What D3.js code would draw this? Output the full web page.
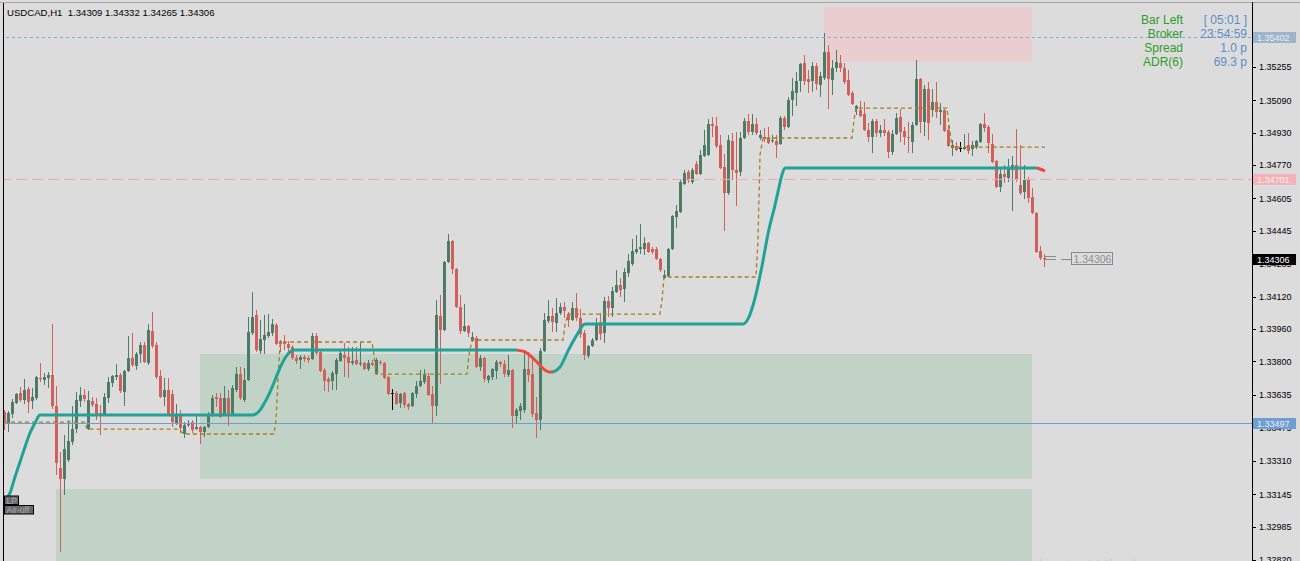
<!DOCTYPE html>
<html><head><meta charset="utf-8">
<script src="https://cdn.jsdelivr.net/npm/d3@7"></script>
<style>body{margin:0;background:#dcdcdc;overflow:hidden}svg{display:block}</style>
</head><body>
<svg id="c" width="1300" height="561"></svg>
<script>
// ---------- DATA (USDCAD H1) ----------
const symbolTitle = "USDCAD,H1  1.34309 1.34332 1.34265 1.34306";
const open = [1.33550,1.33491,1.33540,1.33595,1.33644,1.33610,1.33664,1.33605,1.33619,1.33718,1.33708,1.33718,1.33733,1.33580,1.33274,1.33220,1.33313,1.33402,1.33466,1.33605,
1.33634,1.33466,1.33605,1.33590,1.33545,1.33536,1.33619,1.33694,1.33723,1.33733,1.33649,1.33753,1.33817,1.33777,1.33837,1.33881,1.33792,1.33950,1.33881,1.33728,
1.33624,1.33659,1.33639,1.33496,1.33536,1.33442,1.33486,1.33501,1.33466,1.33476,1.33452,1.33476,1.33531,1.33624,1.33619,1.33536,1.33619,1.33536,1.33659,1.33738,
1.33610,1.33708,1.33940,1.34029,1.33851,1.33906,1.33926,1.33940,1.33980,1.33901,1.33896,1.33886,1.33871,1.33817,1.33807,1.33822,1.33817,1.33812,1.33926,1.33847,
1.33758,1.33713,1.33703,1.33738,1.33802,1.33832,1.33822,1.33792,1.33807,1.33787,1.33792,1.33763,1.33792,1.33738,1.33797,1.33792,1.33723,1.33644,1.33644,1.33595,
1.33644,1.33590,1.33580,1.33639,1.33679,1.33698,1.33728,1.33639,1.33580,1.34024,1.33955,1.34291,1.34394,1.34256,1.34069,1.33950,1.33975,1.33901,1.33916,1.33772,
1.33817,1.33708,1.33723,1.33753,1.33797,1.33787,1.33733,1.33758,1.33531,1.33555,1.33560,1.33763,1.33738,1.33545,1.33511,1.33851,1.33999,1.34024,1.33990,1.34039,
1.34069,1.34034,1.34004,1.34064,1.34014,1.33940,1.33827,1.33876,1.33906,1.33995,1.33940,1.34098,1.34064,1.34143,1.34177,1.34157,1.34236,1.34281,1.34340,1.34355,
1.34355,1.34385,1.34355,1.34355,1.34306,1.34212,1.34222,1.34355,1.34513,1.34538,1.34676,1.34735,1.34686,1.34774,1.34725,1.34814,1.34819,1.34972,1.34962,1.34868,
1.34760,1.34631,1.34888,1.34745,1.34735,1.34903,1.34987,1.34932,1.34972,1.34903,1.34908,1.34903,1.34888,1.34888,1.34873,1.35002,1.34957,1.35090,1.35125,1.35184,
1.35273,1.35194,1.35184,1.35258,1.35164,1.35199,1.35327,1.35189,1.35248,1.35273,1.35248,1.35189,1.35125,1.35046,1.35041,1.35021,1.34942,1.34908,1.34987,1.34928,
1.34942,1.34932,1.34834,1.34923,1.35006,1.34937,1.34908,1.34883,1.34967,1.35194,1.34982,1.35145,1.35041,1.35081,1.35031,1.35041,1.34942,1.34853,1.34863,1.34853,
1.34849,1.34868,1.34849,1.34858,1.34883,1.34972,1.34957,1.34873,1.34789,1.34661,1.34725,1.34705,1.34745,1.34770,1.34671,1.34636,1.34696,1.34612,1.34533,1.34345,
1.34309];
const high = [1.33560,1.33555,1.33615,1.33644,1.33674,1.33713,1.33674,1.33669,1.33728,1.33792,1.33743,1.33748,1.33985,1.33679,1.33353,1.33437,1.33511,1.33580,1.33649,1.33674,
1.33664,1.33654,1.33624,1.33619,1.33585,1.33644,1.33723,1.33733,1.33787,1.33743,1.33758,1.33926,1.33940,1.33847,1.33896,1.33896,1.33985,1.34044,1.33896,1.33758,
1.33718,1.33718,1.33659,1.33590,1.33560,1.33501,1.33511,1.33511,1.33536,1.33481,1.33481,1.33550,1.33634,1.33644,1.33644,1.33679,1.33659,1.33684,1.33772,1.33772,
1.33768,1.34019,1.34143,1.34054,1.34004,1.34029,1.34034,1.34009,1.33990,1.33906,1.33930,1.33901,1.33881,1.33832,1.33832,1.33832,1.33827,1.33940,1.33940,1.33856,
1.33768,1.33723,1.33753,1.33817,1.33861,1.33891,1.33871,1.33871,1.33871,1.33896,1.33797,1.33807,1.33807,1.33817,1.33807,1.33797,1.33728,1.33664,1.33654,1.33644,
1.33649,1.33595,1.33649,1.33703,1.33758,1.33763,1.33743,1.33679,1.34103,1.34128,1.34296,1.34429,1.34399,1.34261,1.34128,1.34083,1.33980,1.33945,1.33926,1.33832,
1.33822,1.33733,1.33768,1.33807,1.33802,1.33807,1.33832,1.33763,1.33570,1.33595,1.33856,1.33847,1.33827,1.33624,1.33866,1.34039,1.34103,1.34064,1.34113,1.34088,
1.34093,1.34044,1.34093,1.34138,1.34059,1.33955,1.33881,1.33916,1.34014,1.34039,1.34118,1.34123,1.34167,1.34251,1.34212,1.34261,1.34330,1.34404,1.34424,1.34478,
1.34414,1.34389,1.34365,1.34365,1.34311,1.34251,1.34360,1.34523,1.34572,1.34696,1.34745,1.34745,1.34755,1.34789,1.34844,1.34942,1.34997,1.35006,1.35006,1.34918,
1.34824,1.34918,1.34928,1.34932,1.34932,1.35002,1.35021,1.35021,1.35002,1.34942,1.34952,1.34957,1.34918,1.34918,1.35011,1.35011,1.35105,1.35199,1.35229,1.35273,
1.35313,1.35238,1.35278,1.35273,1.35229,1.35421,1.35362,1.35288,1.35337,1.35313,1.35273,1.35238,1.35135,1.35066,1.35085,1.35081,1.34977,1.34997,1.34997,1.34967,
1.34997,1.34942,1.34942,1.35026,1.35046,1.34957,1.34982,1.34982,1.35288,1.35199,1.35164,1.35179,1.35145,1.35179,1.35076,1.35046,1.34967,1.34893,1.34883,1.34883,
1.34923,1.34928,1.34888,1.34893,1.34977,1.35026,1.34967,1.34923,1.34794,1.34755,1.34770,1.34799,1.34814,1.34947,1.34868,1.34770,1.34710,1.34656,1.34538,1.34370,
1.34332];
const low = [1.33462,1.33452,1.33521,1.33590,1.33600,1.33590,1.33545,1.33565,1.33610,1.33698,1.33684,1.33669,1.33565,1.33239,1.32859,1.33141,1.33304,1.33387,1.33447,1.33575,
1.33600,1.33462,1.33575,1.33511,1.33437,1.33531,1.33595,1.33674,1.33708,1.33644,1.33580,1.33748,1.33772,1.33758,1.33792,1.33792,1.33782,1.33866,1.33713,1.33619,
1.33580,1.33531,1.33476,1.33486,1.33447,1.33422,1.33476,1.33447,1.33462,1.33392,1.33427,1.33471,1.33526,1.33575,1.33521,1.33531,1.33481,1.33531,1.33649,1.33610,
1.33600,1.33703,1.33930,1.33847,1.33837,1.33837,1.33916,1.33926,1.33881,1.33847,1.33856,1.33837,1.33807,1.33787,1.33763,1.33797,1.33792,1.33807,1.33832,1.33748,
1.33654,1.33649,1.33659,1.33659,1.33797,1.33723,1.33718,1.33782,1.33782,1.33777,1.33758,1.33753,1.33777,1.33733,1.33782,1.33713,1.33634,1.33560,1.33585,1.33570,
1.33570,1.33560,1.33575,1.33619,1.33674,1.33689,1.33629,1.33496,1.33531,1.33689,1.33950,1.34286,1.34232,1.34064,1.33935,1.33945,1.33921,1.33896,1.33768,1.33753,
1.33698,1.33694,1.33708,1.33713,1.33772,1.33723,1.33723,1.33471,1.33491,1.33511,1.33545,1.33698,1.33526,1.33422,1.33462,1.33847,1.33990,1.33945,1.33945,1.34029,
1.34014,1.33970,1.33999,1.33999,1.33916,1.33807,1.33817,1.33871,1.33901,1.33906,1.33891,1.34019,1.34019,1.34138,1.34118,1.34093,1.34217,1.34271,1.34330,1.34330,
1.34325,1.34335,1.34330,1.34301,1.34241,1.34207,1.34217,1.34350,1.34459,1.34533,1.34671,1.34681,1.34676,1.34720,1.34720,1.34809,1.34814,1.34908,1.34853,1.34750,
1.34444,1.34621,1.34696,1.34567,1.34715,1.34898,1.34918,1.34918,1.34918,1.34893,1.34883,1.34873,1.34878,1.34804,1.34868,1.34942,1.34952,1.35011,1.35061,1.35130,
1.35164,1.35125,1.35130,1.35140,1.35105,1.35189,1.35046,1.35115,1.35229,1.35229,1.35169,1.35110,1.35066,1.35016,1.35006,1.34937,1.34883,1.34829,1.34908,1.34908,
1.34913,1.34804,1.34819,1.34918,1.34883,1.34868,1.34829,1.34829,1.34962,1.34928,1.34913,1.34893,1.35006,1.35002,1.34967,1.34932,1.34858,1.34814,1.34839,1.34834,
1.34844,1.34824,1.34814,1.34849,1.34878,1.34932,1.34829,1.34779,1.34656,1.34636,1.34681,1.34686,1.34543,1.34686,1.34621,1.34602,1.34582,1.34528,1.34335,1.34301,
1.34265];
const close = [1.33501,1.33545,1.33600,1.33639,1.33610,1.33659,1.33600,1.33624,1.33723,1.33713,1.33723,1.33733,1.33580,1.33299,1.33220,1.33368,1.33407,1.33466,1.33610,1.33634,
1.33615,1.33610,1.33585,1.33540,1.33536,1.33624,1.33698,1.33728,1.33733,1.33654,1.33753,1.33817,1.33782,1.33837,1.33881,1.33797,1.33955,1.33876,1.33723,1.33624,
1.33659,1.33536,1.33501,1.33540,1.33471,1.33486,1.33496,1.33462,1.33476,1.33452,1.33476,1.33536,1.33619,1.33615,1.33526,1.33619,1.33536,1.33669,1.33738,1.33619,
1.33708,1.33945,1.34019,1.33856,1.33911,1.33930,1.33945,1.33985,1.33886,1.33886,1.33886,1.33866,1.33817,1.33802,1.33822,1.33812,1.33807,1.33926,1.33842,1.33753,
1.33703,1.33698,1.33743,1.33807,1.33842,1.33817,1.33792,1.33802,1.33787,1.33792,1.33763,1.33792,1.33782,1.33807,1.33792,1.33718,1.33639,1.33644,1.33590,1.33639,
1.33585,1.33575,1.33644,1.33679,1.33703,1.33733,1.33634,1.33580,1.34029,1.33955,1.34291,1.34394,1.34256,1.34069,1.33950,1.33975,1.33940,1.33921,1.33772,1.33817,
1.33713,1.33728,1.33763,1.33797,1.33787,1.33738,1.33758,1.33531,1.33560,1.33580,1.33763,1.33733,1.33540,1.33511,1.33851,1.34004,1.34024,1.33995,1.34039,1.34069,
1.34049,1.34004,1.34064,1.34014,1.33935,1.33832,1.33876,1.33906,1.33985,1.33935,1.34098,1.34064,1.34148,1.34177,1.34153,1.34241,1.34296,1.34345,1.34355,1.34365,
1.34385,1.34340,1.34340,1.34306,1.34251,1.34227,1.34355,1.34518,1.34543,1.34686,1.34730,1.34696,1.34745,1.34725,1.34819,1.34868,1.34972,1.34962,1.34863,1.34755,
1.34631,1.34893,1.34745,1.34730,1.34903,1.34987,1.34932,1.34972,1.34928,1.34918,1.34898,1.34878,1.34893,1.34868,1.35002,1.34957,1.35090,1.35135,1.35184,1.35268,
1.35184,1.35179,1.35258,1.35169,1.35209,1.35327,1.35194,1.35248,1.35278,1.35248,1.35179,1.35115,1.35071,1.35061,1.35011,1.34942,1.34908,1.34987,1.34928,1.34942,
1.34928,1.34834,1.34923,1.35002,1.34932,1.34908,1.34903,1.34967,1.35194,1.34982,1.35145,1.34977,1.35081,1.35031,1.35041,1.34937,1.34863,1.34868,1.34844,1.34853,
1.34858,1.34839,1.34868,1.34888,1.34972,1.34952,1.34878,1.34784,1.34661,1.34725,1.34710,1.34760,1.34770,1.34700,1.34631,1.34696,1.34607,1.34533,1.34340,1.34309,
1.34306];

// trailing line (index, price) segments
const trailUpA_idx   = [1,1.5,2.75,4,5.25,6.5,7.75,9,62.25,64,65.25,66.5,67.75,69,70.25,71.5,72.25,128.25];
const trailUpA_price = [1.33131,1.33151,1.33230,1.33304,1.33378,1.33447,1.33496,1.33536,1.33536,1.33560,1.33600,1.33649,1.33708,1.33768,1.33817,1.33847,1.33856,1.33856];
const trailDnA_idx   = [128.25,130.25,132.75,135.25,136.25,137.25];
const trailDnA_price = [1.33856,1.33847,1.33807,1.33758,1.33748,1.33748];
const trailUpB_idx   = [137.25,139,141.1,143.2,145.25,184.75,186.1,187.75,189.4,191.1,192.75,193.6,194.4,195.25,258.2];
const trailUpB_price = [1.33748,1.33772,1.33856,1.33930,1.33985,1.33985,1.34014,1.34113,1.34261,1.34439,1.34572,1.34646,1.34715,1.34755,1.34755];
const trailDnB_idx   = [258.2,259,260.25];
const trailDnB_price = [1.34755,1.34750,1.34740];

// dashed step line
const stepIdx = [0,20.25,20.75,43.5,45,67.5,68,68.5,69,69.5,92,92.5,93,115.75,116.25,117,139.75,140.25,141,164,164.5,165,188,188.5,189,189.75,212,212.5,213,235.75,236.25,237,260.25];
const stepPrice = [1.33501,1.33501,1.33466,1.33466,1.33442,1.33442,1.33511,1.33708,1.33881,1.33896,1.33896,1.33832,1.33738,1.33738,1.33832,1.33906,1.33906,1.33980,1.34034,1.34034,1.34103,1.34217,1.34217,1.34399,1.34819,1.34903,1.34903,1.34992,1.35051,1.35051,1.34967,1.34858,1.34858];

// zones
const zoneKind   = ["supply","demand","demand"];
const zoneStart  = [205, 49, 13];
const zoneEnd    = [257, 257, 257];
const zoneTop    = [1.35549, 1.33837, 1.33170];
const zoneBottom = [1.35278, 1.33220, 1.32780];

// horizontal levels
const levelPrice = [1.35402, 1.34701, 1.33497];
const levelKind  = ["blueDash","pinkDash","blueSolid"];
const bidPrice = 1.34306;

// axis ticks
const tickValues = [1.35255,1.35090,1.34930,1.34770,1.34605,1.34445,1.34285,1.34120,1.33960,1.33800,1.33635,1.33475,1.33310,1.33145,1.32985,1.32820];

// info panel
const infoLabels = ["Bar Left","Broker","Spread","ADR(6)"];
const infoValues = ["[ 05:01 ]","23:54:59","1.0 p","69.3 p"];
const tagLabels = ["LP","Air-off"];

// ---------- DRAW ----------
const W = 1300, H = 561;
const svg = d3.select("#c");
const x = d3.scaleLinear().domain([0, 260]).range([4, 1044]);
const y = d3.scaleLinear().domain([1.32820, 1.35255]).range([560, 66.7]);
const FONT = "'Liberation Sans', Arial, sans-serif";

svg.append("rect").attr("width", W).attr("height", H).attr("fill", "#dcdcdc");

const plot = svg.append("g");
plot.append("clipPath").attr("id","clp").append("rect").attr("x",3).attr("y",2).attr("width",1249).attr("height",H);

const zg = plot.append("g").attr("clip-path","url(#clp)");
zg.selectAll("rect").data(zoneKind).join("rect")
  .attr("x", (d,i) => x(zoneStart[i]))
  .attr("width", (d,i) => x(zoneEnd[i]) - x(zoneStart[i]))
  .attr("y", (d,i) => y(zoneTop[i]))
  .attr("height", (d,i) => y(zoneBottom[i]) - y(zoneTop[i]))
  .attr("fill", d => d === "supply" ? "#e9cdcf" : "#c1d3c7");

// candles
const cg = plot.append("g").attr("shape-rendering","crispEdges").attr("clip-path","url(#clp)");
const idx = d3.range(open.length);
const col = i => close[i] > open[i] ? "#4e7a68" : (close[i] < open[i] ? "#cf605a" : "#000000");
cg.selectAll("rect.w").data(idx).join("rect").attr("class","w")
  .attr("x", i => Math.round(x(i)))
  .attr("width", 1)
  .attr("y", i => y(high[i]))
  .attr("height", i => Math.max(1, y(low[i]) - y(high[i])))
  .attr("fill", col);
cg.selectAll("rect.b").data(idx).join("rect").attr("class","b")
  .attr("x", i => Math.round(x(i)) - 1)
  .attr("width", 3)
  .attr("y", i => y(Math.max(open[i], close[i])))
  .attr("height", i => Math.max(1, Math.abs(y(open[i]) - y(close[i]))))
  .attr("fill", col);

// level lines
const lg = plot.append("g").attr("clip-path","url(#clp)").attr("shape-rendering","crispEdges");
levelPrice.forEach((p,i) => {
  const k = levelKind[i];
  lg.append("line").attr("x1", 0).attr("x2", 1252)
    .attr("y1", Math.round(y(p)) + 0.5).attr("y2", Math.round(y(p)) + 0.5)
    .attr("stroke", k === "pinkDash" ? "#f0a9b0" : (k === "blueDash" ? "#86a9d6" : "#6d9fd2"))
    .attr("stroke-width", 1)
    .attr("stroke-dasharray", k === "pinkDash" ? "11,5" : (k === "blueDash" ? "3,3" : null));
});

// dashed step line
const stepLine = d3.line().x(d => x(d[0])).y(d => y(d[1]));
plot.append("path").datum(stepIdx.map((v,i) => [v, stepPrice[i]]))
  .attr("d", stepLine).attr("fill","none").attr("stroke","#a8801c")
  .attr("stroke-width", 1.3).attr("stroke-dasharray","4,3");

// trailing line
const tl = d3.line().x(d => x(d[0])).y(d => y(d[1])).curve(d3.curveMonotoneX);
const segs = [
  [trailUpA_idx, trailUpA_price, "#1fa396"],
  [trailDnA_idx, trailDnA_price, "#ef4a42"],
  [trailUpB_idx, trailUpB_price, "#1fa396"],
  [trailDnB_idx, trailDnB_price, "#ef4a42"]
];
segs.forEach(s => {
  plot.append("path").datum(s[0].map((v,i) => [v, s[1][i]]))
    .attr("d", tl).attr("fill","none").attr("stroke", s[2]).attr("stroke-width", 3);
});

// bid marker near last candle
const lastX = x(open.length - 1);
const by = Math.round(y(bidPrice));
const mk = svg.append("g").attr("shape-rendering","crispEdges");
mk.append("line").attr("x1", lastX+1).attr("x2", lastX+12).attr("y1", by-2.5).attr("y2", by-2.5).attr("stroke","#8a8a8a");
mk.append("line").attr("x1", lastX+1).attr("x2", lastX+12).attr("y1", by+0.5).attr("y2", by+0.5).attr("stroke","#8a8a8a");
mk.append("line").attr("x1", lastX+17).attr("x2", lastX+27).attr("y1", by+0.5).attr("y2", by+0.5).attr("stroke","#8a8a8a");
mk.append("rect").attr("x", lastX+27.5).attr("y", by-6.5).attr("width", 41).attr("height", 12).attr("fill","none").attr("stroke","#8a8a8a").attr("stroke-width",1.4);
mk.append("text").attr("x", lastX+29.5).attr("y", by+4).attr("font-family", FONT).attr("font-size", 10.5).attr("fill","#8c8c8c").text(d3.format(".5f")(bidPrice));

// frame
svg.append("line").attr("x1",0).attr("x2",W).attr("y1",2.5).attr("y2",2.5).attr("stroke","#a6a6a6");
svg.append("line").attr("x1",3.5).attr("x2",3.5).attr("y1",3).attr("y2",H).attr("stroke","#000");

// axis
const axisG = svg.append("g").attr("transform","translate(1252,0)")
  .call(d3.axisRight(y).tickValues(tickValues).tickSize(4).tickPadding(3).tickFormat(d3.format(".5f")));
axisG.select(".domain").remove();
axisG.selectAll("line").attr("stroke","#000").attr("shape-rendering","crispEdges");
axisG.selectAll("text").attr("font-family", FONT).attr("font-size", 9).attr("fill","#000");
svg.append("line").attr("x1",1252.5).attr("x2",1252.5).attr("y1",2).attr("y2",H).attr("stroke","#000");

// price tags on axis
const tagData = [
  [levelPrice[0], "#9eb4cb", "#e8eef4"],
  [levelPrice[1], "#f3b3b9", "#fbecee"],
  [levelPrice[2], "#6f9ed0", "#e6eef8"],
  [bidPrice, "#000000", "#ffffff"]
];
tagData.forEach(t => {
  const yy = Math.round(y(t[0]));
  svg.append("rect").attr("x",1253).attr("y",yy-5).attr("width",43).attr("height",11).attr("fill",t[1]);
  svg.append("text").attr("x",1257).attr("y",yy+4).attr("font-family",FONT).attr("font-size",9).attr("fill",t[2]).text(d3.format(".5f")(t[0]));
});

// title
svg.append("text").attr("x",7).attr("y",16).attr("font-family",FONT).attr("font-size",9.6)
  .attr("fill","#000").style("white-space","pre").text(symbolTitle);

// info panel
infoLabels.forEach((l,i) => {
  svg.append("text").attr("x",1183).attr("y",23.5 + 14*i).attr("text-anchor","end")
    .attr("font-family",FONT).attr("font-size",12).attr("fill","#2e9c2a").text(l);
  svg.append("text").attr("x",1247).attr("y",23.5 + 14*i).attr("text-anchor","end")
    .attr("font-family",FONT).attr("font-size",12).attr("fill","#5b8fc6").style("white-space","pre").text(infoValues[i]);
});

// small tags bottom-left
const tagW = [14, 29];
tagLabels.forEach((t,i) => {
  const ty = 496 + i*9.5;
  svg.append("rect").attr("x",4.5).attr("y",ty).attr("width",tagW[i]).attr("height",8.5)
    .attr("fill","#6a6a6a").attr("stroke","#000").attr("stroke-width",1);
  svg.append("text").attr("x",6.5).attr("y",ty+7.5).attr("font-family",FONT).attr("font-size",8.5)
    .attr("fill","#a8a8a8").text(t);
});

// watermark (cut by the bottom edge, as in the reference)
svg.append("text").attr("x",1008).attr("y",574).attr("font-family",FONT).attr("font-size",21)
  .attr("fill","#cfcfcf").text("Activate Windows");
</script>
</body></html>
